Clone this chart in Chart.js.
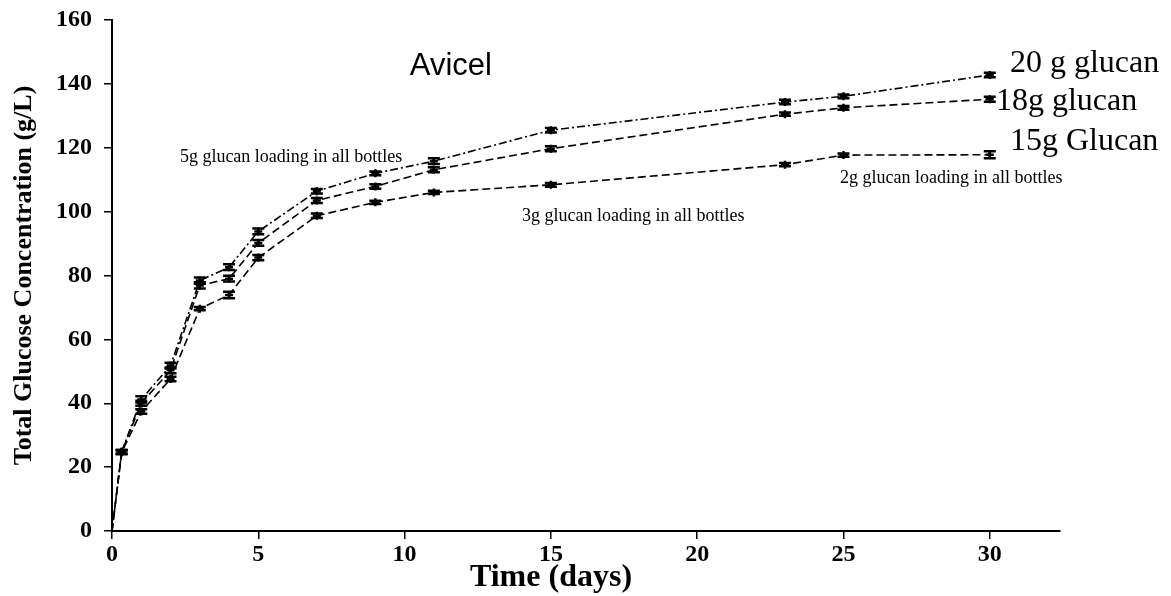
<!DOCTYPE html>
<html>
<head>
<meta charset="utf-8">
<title>Avicel glucose release</title>
<script src="https://cdn.jsdelivr.net/npm/chart.js@4/dist/chart.umd.min.js"></script>
<style>
    html, body { margin: 0; padding: 0; background: #fff; }
    #chart { display: block; }
</style>
</head>
<body>
<canvas id="chart" width="1171" height="596"></canvas>
<script>
// ==================== Data ====================

const days = [0, 0.33, 1, 2, 3, 4, 5, 7, 9, 11, 15, 23, 25, 30];

const glucan20 = [0, 24.8, 41.2, 51.8, 78.4, 82.6, 93.8, 106.4, 112.0, 115.8, 125.5, 134.3, 136.1, 142.8];
const glucan18 = [0, 24.8, 40.0, 50.3, 76.9, 79.0, 90.2, 103.5, 107.9, 113.1, 119.7, 130.5, 132.5, 135.2];
const glucan15 = [0, 24.6, 37.4, 47.6, 69.6, 73.9, 85.6, 98.7, 102.9, 106.0, 108.4, 114.7, 117.7, 117.8];

const err20 = [0, 0.6, 1.0, 0.9, 1.0, 0.9, 0.9, 0.7, 0.6, 0.9, 0.7, 0.7, 0.6, 0.7];
const err18 = [0, 0.6, 0.8, 0.9, 1.0, 0.9, 0.9, 0.8, 0.7, 0.8, 0.8, 0.5, 0.6, 0.8];
const err15 = [0, 0.6, 0.7, 0.7, 0.5, 1.0, 0.8, 0.7, 0.5, 0.5, 0.6, 0.5, 0.5, 1.1];

const xTicks = [0, 5, 10, 15, 20, 25, 30];
const yTicks = [0, 20, 40, 60, 80, 100, 120, 140, 160];

const SERIF = '"Liberation Serif", "Times New Roman", serif';

// text placed in data units (days, g/L), left edge + vertical middle
const notes = [
    { text: 'Avicel', x: 10.18, y: 145.4, font: '31px "Liberation Sans", Arial, sans-serif' },
    { text: '20 g glucan', x: 30.69, y: 146.4, font: '32px ' + SERIF },
    { text: '18g glucan', x: 30.21, y: 134.5, font: '32px ' + SERIF },
    { text: '15g Glucan', x: 30.69, y: 121.8, font: '32px ' + SERIF },
    { text: '5g glucan loading in all bottles', x: 2.32, y: 116.9, font: '18px ' + SERIF },
    { text: '3g glucan loading in all bottles', x: 14.01, y: 98.4, font: '18px ' + SERIF },
    { text: '2g glucan loading in all bottles', x: 24.88, y: 110.3, font: '18px ' + SERIF }
];

function toPoints(ys) {
    return days.map((d, i) => ({ x: d, y: ys[i] }));
}

function makeSet(label, ys, errs, dash) {
    return {
        label,
        data: toPoints(ys),
        errors: errs,
        borderColor: '#000',
        backgroundColor: '#000',
        borderWidth: 1.6,
        borderDash: dash,
        pointStyle: 'cross',
        pointRadius: ctx => ctx.dataIndex === 0 ? 0 : 4,
        pointBorderWidth: 2.5,
        pointBorderColor: '#000',
        tension: 0,
        fill: false
    };
}

// ==================== Plugins ====================

const errorBars = {
    id: 'errorBars',
    afterDatasetsDraw(chart) {
        const { ctx, scales: { x, y } } = chart;
        ctx.save();
        ctx.strokeStyle = '#000';
        ctx.lineWidth = 2.5;
        chart.data.datasets.forEach(ds => {
            ds.data.forEach((p, i) => {
                const e = ds.errors[i];
                if (!e) return;
                const px = x.getPixelForValue(p.x);
                const top = y.getPixelForValue(p.y + e);
                const bot = y.getPixelForValue(p.y - e);
                ctx.beginPath();
                ctx.moveTo(px, top); ctx.lineTo(px, bot);
                ctx.moveTo(px - 6, top); ctx.lineTo(px + 6, top);
                ctx.moveTo(px - 6, bot); ctx.lineTo(px + 6, bot);
                ctx.stroke();
            });
        });
        ctx.restore();
    }
};

const labelText = {
    id: 'labelText',
    afterDraw(chart) {
        const { ctx, scales: { x, y } } = chart;
        ctx.save();
        ctx.fillStyle = '#000';
        ctx.textBaseline = 'middle';
        ctx.textAlign = 'left';
        notes.forEach(n => {
            ctx.font = n.font;
            ctx.fillText(n.text, x.getPixelForValue(n.x), y.getPixelForValue(n.y));
        });
        // x axis title, sits a little left of centre
        ctx.font = 'bold 32px ' + SERIF;
        ctx.textAlign = 'center';
        ctx.fillText('Time (days)', (x.left + x.right) / 2 - 35, 578);
        ctx.restore();
    }
};

// ==================== Chart ====================

const axisGrid = {
    display: true,
    drawOnChartArea: false,
    drawTicks: true,
    tickLength: 8,
    color: '#000',
    lineWidth: 1.5
};

new Chart(document.getElementById('chart').getContext('2d'), {
    type: 'line',
    data: {
        datasets: [
            makeSet('20 g glucan', glucan20, err20, [8, 3, 2, 3]),
            makeSet('18g glucan', glucan18, err18, [8, 4]),
            makeSet('15g Glucan', glucan15, err15, [8, 4])
        ]
    },
    options: {
        responsive: false,
        devicePixelRatio: 1,
        animation: false,
        layout: { padding: { top: 20, right: 111, bottom: 0, left: 0 } },
        plugins: {
            legend: { display: false },
            tooltip: { enabled: false }
        },
        scales: {
            x: {
                type: 'linear',
                min: 0,
                max: 32.4,
                afterBuildTicks: s => { s.ticks = xTicks.map(v => ({ value: v })); },
                afterFit: s => { s.height = 65; s.paddingLeft = 0; s.paddingRight = 0; },
                grid: axisGrid,
                border: { display: true, color: '#000', width: 2 },
                ticks: {
                    color: '#000',
                    padding: 1,
                    maxRotation: 0,
                    font: { family: SERIF, size: 24, weight: 'bold' }
                }
            },
            y: {
                type: 'linear',
                min: 0,
                max: 160,
                afterBuildTicks: s => { s.ticks = yTicks.map(v => ({ value: v })); },
                afterFit: s => { s.width = 112; s.paddingTop = 0; s.paddingBottom = 0; },
                grid: axisGrid,
                border: { display: true, color: '#000', width: 2 },
                ticks: {
                    color: '#000',
                    padding: 12,
                    font: { family: SERIF, size: 24, weight: 'bold' }
                },
                title: {
                    display: true,
                    text: 'Total Glucose Concentration (g/L)',
                    color: '#000',
                    padding: { top: 9, bottom: 0 },
                    font: { family: SERIF, size: 26, weight: 'bold' }
                }
            }
        }
    },
    plugins: [errorBars, labelText]
});
</script>
</body>
</html>
